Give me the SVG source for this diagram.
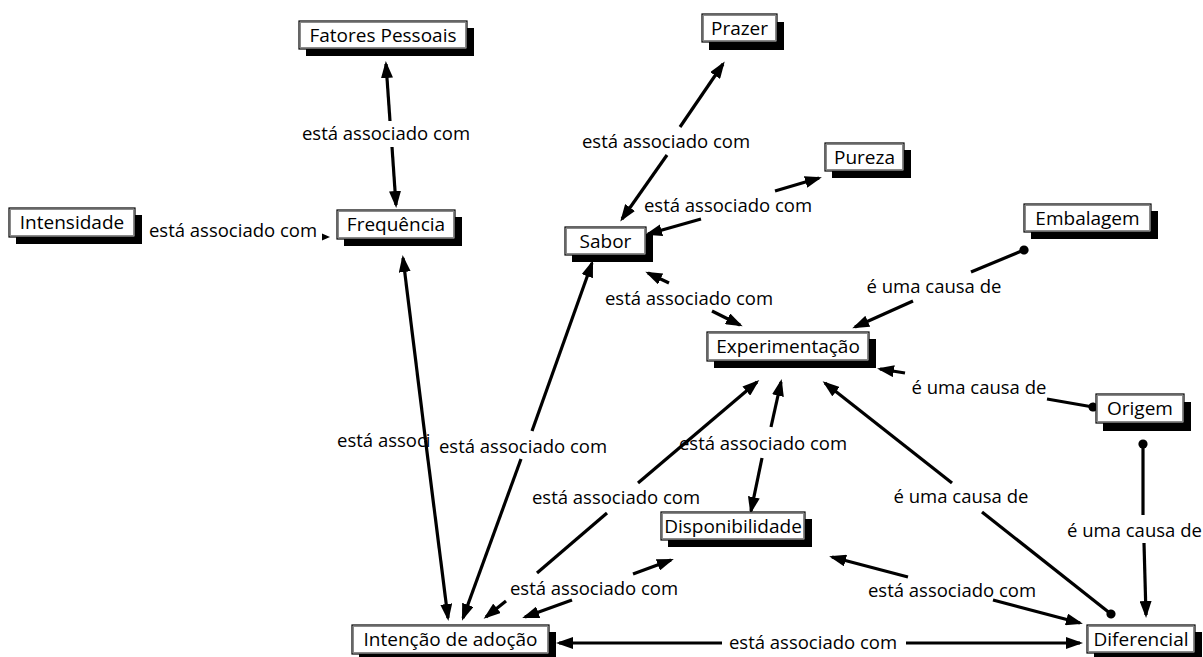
<svg xmlns="http://www.w3.org/2000/svg" width="1203" height="657" viewBox="0 0 1203 657">
<style>
.shadow{fill:#000}
.box{fill:#fff;stroke:#000;stroke-width:1.2}
.inner{fill:none;stroke:#8a8a8a;stroke-width:1}
text{font-family:"Open Sans","Liberation Sans",sans-serif;font-size:18.5px;fill:#000}
.nt{text-anchor:middle;font-size:19px}
.lt{text-anchor:middle}
.ln{fill:none;stroke:#000;stroke-width:3.2}
.arr{marker-end:url(#ah)}
.dot{marker-start:url(#dt)}
</style>
<defs>
<marker id="ah" markerUnits="userSpaceOnUse" viewBox="0 0 17 12" markerWidth="17" markerHeight="12" refX="14" refY="6" orient="auto">
<path d="M0,0 L17,6 L0,12 z" fill="#000"/>
</marker>
<marker id="dt" markerUnits="userSpaceOnUse" viewBox="0 0 10 10" markerWidth="10" markerHeight="10" refX="5" refY="5" orient="auto">
<circle cx="5" cy="5" r="4.6" fill="#000"/>
</marker>
</defs>
<rect width="1203" height="657" fill="#fff"/>

<g id="connectors">
<path class="ln arr" d="M390,121 L386,64"/>
<path class="ln arr" d="M392,147 L396,205"/>
<polygon points="322,233.5 330,237 322,240.5" fill="#000"/>
<path class="ln arr" d="M425.5,440 L403,258"/>
<path class="ln arr" d="M425.5,440 L448,618"/>
<path class="ln arr" d="M532,431 L592,263"/>
<path class="ln arr" d="M521,459 L463,618"/>
<path class="ln arr" d="M680,127 L723,64"/>
<path class="ln arr" d="M667,155 L622,219"/>
<path class="ln arr" d="M775,191 L819,178"/>
<path class="ln arr" d="M701,219 L648,234"/>
<path class="ln arr" d="M669,283 L648,273"/>
<path class="ln arr" d="M712,311 L740,325"/>
<path class="ln dot" d="M1024,250 L971,272"/>
<path class="ln arr" d="M913,301 L855,327"/>
<path class="ln dot" d="M1093,407 L1047,399"/>
<path class="ln arr" d="M905,373 L880,369"/>
<path class="ln dot" d="M1143,444 L1143,515"/>
<path class="ln arr" d="M1144,543 L1146,615"/>
<path class="ln dot" d="M1111,614 L982,512"/>
<path class="ln arr" d="M952,483 L825,383"/>
<path class="ln arr" d="M771,427 L781,382"/>
<path class="ln arr" d="M762,458 L751,511"/>
<path class="ln arr" d="M638,483 L757,382"/>
<path class="ln" d="M607,513 L537,573"/>
<path class="ln arr" d="M506,601 L486,617"/>
<path class="ln arr" d="M633,574 L671,560"/>
<path class="ln arr" d="M572,600 L525,617"/>
<path class="ln arr" d="M908,577 L832,557"/>
<path class="ln arr" d="M993,600 L1080,623"/>
<path class="ln arr" d="M722,643 L559,643"/>
<path class="ln arr" d="M906,643 L1080,643"/>
<g id="link-labels">
<text class="lt" x="386" y="140">está associado com</text>
<text class="lt" x="233" y="237">está associado com</text>
<text x="337" y="447">está associ</text>
<text class="lt" x="523" y="453">está associado com</text>
<text class="lt" x="666" y="148">está associado com</text>
<text class="lt" x="728" y="212">está associado com</text>
<text class="lt" x="689" y="305">está associado com</text>
<text class="lt" x="934" y="293">é uma causa de</text>
<text class="lt" x="979" y="394">é uma causa de</text>
<text x="1067" y="537">é uma causa de</text>
<text class="lt" x="961" y="503">é uma causa de</text>
<text class="lt" x="763" y="450">está associado com</text>
<text class="lt" x="616" y="504">está associado com</text>
<text class="lt" x="594" y="595">está associado com</text>
<text class="lt" x="952" y="597">está associado com</text>
<text class="lt" x="813" y="649">está associado com</text>
</g>
</g>

<g id="n-fatores">
<rect class="shadow" x="306" y="28" width="168" height="28"/>
<rect class="box" x="299" y="21" width="168" height="28"/>
<rect class="inner" x="300.5" y="22.5" width="165" height="25"/>
<text class="nt" x="383" y="42">Fatores Pessoais</text>
</g>
<g id="n-prazer">
<rect class="shadow" x="709" y="22" width="75" height="28"/>
<rect class="box" x="702" y="14" width="75" height="28"/>
<rect class="inner" x="703.5" y="15.5" width="72" height="25"/>
<text class="nt" x="739.5" y="35">Prazer</text>
</g>
<g id="n-pureza">
<rect class="shadow" x="832" y="150" width="79" height="28"/>
<rect class="box" x="825" y="143" width="79" height="28"/>
<rect class="inner" x="826.5" y="144.5" width="76" height="25"/>
<text class="nt" x="864.5" y="164">Pureza</text>
</g>
<g id="n-sabor">
<rect class="shadow" x="572" y="234" width="81" height="28"/>
<rect class="box" x="565" y="227" width="81" height="28"/>
<rect class="inner" x="566.5" y="228.5" width="78" height="25"/>
<text class="nt" x="605.5" y="248">Sabor</text>
</g>
<g id="n-intensidade">
<rect class="shadow" x="16" y="215" width="126" height="29"/>
<rect class="box" x="9" y="208" width="126" height="29"/>
<rect class="inner" x="10.5" y="209.5" width="123" height="26"/>
<text class="nt" x="72" y="229">Intensidade</text>
</g>
<g id="n-frequencia">
<rect class="shadow" x="344" y="217" width="118" height="29"/>
<rect class="box" x="337" y="210" width="118" height="29"/>
<rect class="inner" x="338.5" y="211.5" width="115" height="26"/>
<text class="nt" x="396" y="231">Frequência</text>
</g>
<g id="n-embalagem">
<rect class="shadow" x="1031" y="211" width="127" height="28"/>
<rect class="box" x="1024" y="204" width="127" height="28"/>
<rect class="inner" x="1025.5" y="205.5" width="124" height="25"/>
<text class="nt" x="1087.5" y="225">Embalagem</text>
</g>
<g id="n-experimentacao">
<rect class="shadow" x="714" y="339" width="162" height="29"/>
<rect class="box" x="707" y="332" width="162" height="29"/>
<rect class="inner" x="708.5" y="333.5" width="159" height="26"/>
<text class="nt" x="788" y="353">Experimentação</text>
</g>
<g id="n-origem">
<rect class="shadow" x="1103" y="402" width="88" height="29"/>
<rect class="box" x="1096" y="394" width="88" height="29"/>
<rect class="inner" x="1097.5" y="395.5" width="85" height="26"/>
<text class="nt" x="1140" y="415">Origem</text>
</g>
<g id="n-disponibilidade">
<rect class="shadow" x="668" y="519" width="144" height="28"/>
<rect class="box" x="661" y="512" width="144" height="28"/>
<rect class="inner" x="662.5" y="513.5" width="141" height="25"/>
<text class="nt" x="733" y="533">Disponibilidade</text>
</g>
<g id="n-intencao">
<rect class="shadow" x="359" y="632" width="197" height="29"/>
<rect class="box" x="352" y="625" width="197" height="29"/>
<rect class="inner" x="353.5" y="626.5" width="194" height="26"/>
<text class="nt" x="450.5" y="646">Intenção de adoção</text>
</g>
<g id="n-diferencial">
<rect class="shadow" x="1094" y="632" width="108" height="28"/>
<rect class="box" x="1087" y="625" width="108" height="28"/>
<rect class="inner" x="1088.5" y="626.5" width="105" height="25"/>
<text class="nt" x="1141" y="646">Diferencial</text>
</g>
</svg>
